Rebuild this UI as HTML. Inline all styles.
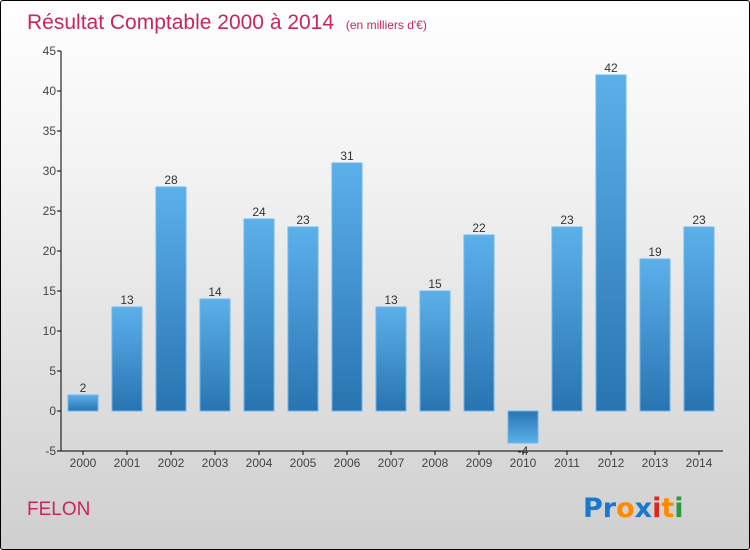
<!DOCTYPE html>
<html><head><meta charset="utf-8"><style>
body{margin:0}
#c{width:750px;height:550px;position:relative;overflow:hidden;box-sizing:border-box;border:1px solid #000;border-radius:3px;background:linear-gradient(#ffffff,#f3f3f3 30%,#cfcfcf);font-family:"Liberation Sans",sans-serif}
</style></head><body>
<div id="c">
<svg width="750" height="550" style="position:absolute;left:0;top:0" id="svg">
<defs>
<linearGradient id="gp" x1="0" y1="0" x2="0" y2="1"><stop offset="0" stop-color="#5cb0ea"/><stop offset="1" stop-color="#2874b0"/></linearGradient>
<linearGradient id="gn" x1="0" y1="0" x2="0" y2="1"><stop offset="0" stop-color="#2874b0"/><stop offset="1" stop-color="#5cb0ea"/></linearGradient>
</defs>
<text x="26" y="28" font-size="21" fill="#c8265a">Résultat Comptable 2000 à 2014 <tspan font-size="12" dx="6">(en milliers d'€)</tspan></text>
<text x="26" y="514" font-size="19" fill="#c8265a">FELON</text>
<g id="plot"></g>
<text x="582" y="516" font-size="27" font-family="'DejaVu Sans',sans-serif" font-weight="bold"><tspan fill="#1a78cc">Pr</tspan><tspan fill="#ff8a00">o</tspan><tspan fill="#1a78cc">x</tspan><tspan fill="#e0261a">i</tspan><tspan fill="#ff8a00">t</tspan><tspan fill="#2a9a3a">i</tspan></text>
</svg>
</div>
<script>
const categories=["2000","2001","2002","2003","2004","2005","2006","2007","2008","2009","2010","2011","2012","2013","2014"];
const values=[2,13,28,14,24,23,31,13,15,22,-4,23,42,19,23];
const yTicks=[-5,0,5,10,15,20,25,30,35,40,45];
const NS="http://www.w3.org/2000/svg";
const g=document.getElementById('plot');
const x0=60,x1=720,yMin=-5,yMax=45,yTop=50,yBot=450;
const y=v=>yBot-(v-yMin)/(yMax-yMin)*(yBot-yTop);
const step=(x1-x0)/categories.length;
const xc=i=>x0+step*(i+0.5);
function el(t,a){const e=document.createElementNS(NS,t);for(const k in a)e.setAttribute(k,a[k]);g.appendChild(e);return e;}
let ax=el('line',{x1:x0,y1:yTop,x2:x0,y2:yBot,stroke:'#000'});


let bx=el('line',{x1:x0,y1:yBot,x2:x1+2,y2:yBot,stroke:'#000'});


yTicks.forEach(v=>{
 el('line',{x1:x0-4,y1:y(v),x2:x0,y2:y(v),stroke:'#000'});
 const t=el('text',{x:x0-5,y:y(v)+4,'text-anchor':'end','font-size':12,fill:'#444'});t.textContent=v;
 
 
});
categories.forEach((c,i)=>{
 el('line',{x1:xc(i),y1:yBot,x2:xc(i),y2:yBot+4,stroke:'#000'});
 const t=el('text',{x:xc(i),y:yBot+16,'text-anchor':'middle','font-size':12,fill:'#444'});t.textContent=c;
 
 
 const v=values[i];const ya=y(Math.max(v,0)),yb=y(Math.min(v,0));
 const r=el('rect',{x:xc(i)-15,y:ya,width:30,height:yb-ya,fill:v>=0?'url(#gp)':'url(#gn)',stroke:'#6bb8ee','stroke-width':1});
 
 
 const l=el('text',{x:xc(i),y:v>=0?ya-3:yb+12,'text-anchor':'middle','font-size':12,fill:'#333'});l.textContent=v;
 
 
});
</script>
</body></html>
